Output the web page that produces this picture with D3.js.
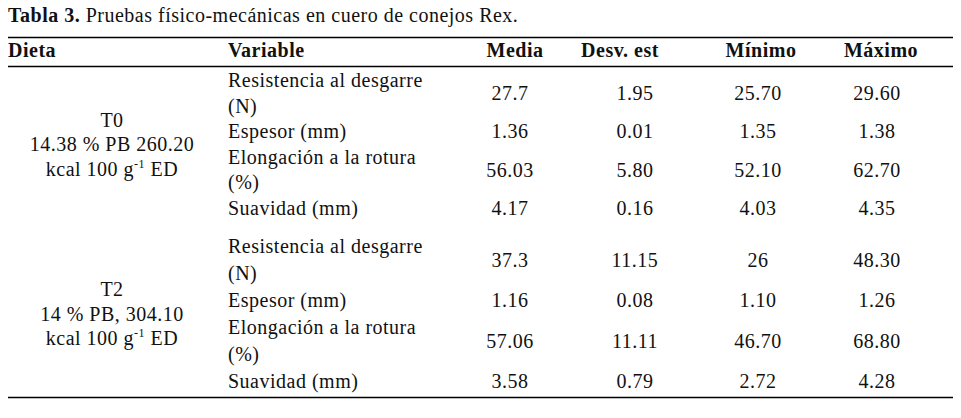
<!DOCTYPE html>
<html><head><meta charset="utf-8">
<script src="https://cdn.jsdelivr.net/npm/d3@7/dist/d3.min.js"></script>
<style>
html,body{margin:0;padding:0;background:#fff;}
svg{display:block;}
</style></head><body>
<svg id="chart" width="961" height="418"></svg>
<script>
// ---------- data ----------
const titleBold = "Tabla 3.";
const titleRest = " Pruebas físico-mecánicas en cuero de conejos Rex.";
const headers = ["Dieta", "Variable", "Media", "Desv. est", "Mínimo", "Máximo"];
const statCols = ["Media", "Desv. est", "Mínimo", "Máximo"];
const diets = ["T0", "T2"];
const dietLine2 = ["14.38 % PB 260.20", "14 % PB, 304.10"];
const dietLine3 = ["kcal 100 g", "kcal 100 g"];
const dietSup = ["-1", "-1"];
const dietLine3End = [" ED", " ED"];
const variables = [
  ["Resistencia al desgarre", "(N)"],
  ["Espesor (mm)"],
  ["Elongación a la rotura", "(%)"],
  ["Suavidad (mm)"]
];
// one entry per diet x variable (T0: 4 rows, then T2: 4 rows)
const media  = ["27.7", "1.36", "56.03", "4.17", "37.3", "1.16", "57.06", "3.58"];
const desvEst = ["1.95", "0.01", "5.80", "0.16", "11.15", "0.08", "11.11", "0.79"];
const minimo = ["25.70", "1.35", "52.10", "4.03", "26", "1.10", "46.70", "2.72"];
const maximo = ["29.60", "1.38", "62.70", "4.35", "48.30", "1.26", "68.80", "4.28"];

// ---------- layout ----------
const FONT = "Liberation Serif";
const svg = d3.select("#chart")
  .attr("font-family", FONT)
  .style("font-family", "'Liberation Serif', serif");
const FS = 20;
const left = 8, right = 953;
const ruleTop = 37.5, ruleHead = 66.5, ruleBottom = 397.5;
const headBaseline = 57;

const xHead = d3.scaleOrdinal().domain(statCols).range([515, 620, 761, 881]);
const xNum = d3.scaleOrdinal().domain(statCols).range([510, 635, 758, 877]);
const xDieta = 112, xVar = 228;

const blockFirst = [87, 253], blockLast = [215, 388];
const lineScales = diets.map((d, i) =>
  d3.scaleLinear().domain([0, 5]).range([blockFirst[i], blockLast[i]]));

function txt(sel, x, y) {
  return sel.append("text").attr("x", x).attr("y", y)
    .attr("font-family", FONT).attr("font-size", FS)
    .attr("fill", "#111").attr("letter-spacing", 0.5);
}

// title
const title = txt(svg, left, 22);
title.append("tspan").attr("font-weight", "bold").text(titleBold);
title.append("tspan").text(titleRest);

// rules
svg.selectAll("line.rule").data([ruleTop, ruleHead, ruleBottom]).join("line")
  .attr("class", "rule")
  .attr("x1", left).attr("x2", right)
  .attr("y1", d => d).attr("y2", d => d)
  .attr("stroke", "#000").attr("stroke-width", 1.4);

// headers
txt(svg, left, headBaseline).attr("font-weight", "bold").text(headers[0]);
txt(svg, xVar, headBaseline).attr("font-weight", "bold").text(headers[1]);
statCols.forEach(c => {
  txt(svg, xHead(c), headBaseline).attr("font-weight", "bold")
    .attr("text-anchor", "middle").text(c);
});

const statArrays = [media, desvEst, minimo, maximo];

diets.forEach((diet, bi) => {
  const ys = lineScales[bi];
  const g = svg.append("g").attr("class", "block");

  const mid = (ys(0) + ys(5)) / 2;
  const dl = 24.5;
  txt(g, xDieta, mid - dl).attr("text-anchor", "middle").text(diet);
  txt(g, xDieta, mid).attr("text-anchor", "middle").text(dietLine2[bi]);
  const t3 = txt(g, xDieta, mid + dl).attr("text-anchor", "middle");
  t3.append("tspan").text(dietLine3[bi]);
  t3.append("tspan").attr("font-size", 12).attr("dy", -8).text(dietSup[bi]);
  t3.append("tspan").attr("dy", 8).text(dietLine3End[bi]);

  let line = 0;
  variables.forEach((vLines, vi) => {
    const idx = bi * variables.length + vi;
    const lineIdx = vLines.map((_, k) => line + k);
    vLines.forEach((t, k) => { txt(g, xVar, ys(line + k)).text(t); });
    const yNum = d3.mean(lineIdx, k => ys(k));
    statCols.forEach((c, ci) => {
      txt(g, xNum(c), yNum).attr("text-anchor", "middle").text(statArrays[ci][idx]);
    });
    line += vLines.length;
  });
});
</script>
</body></html>
